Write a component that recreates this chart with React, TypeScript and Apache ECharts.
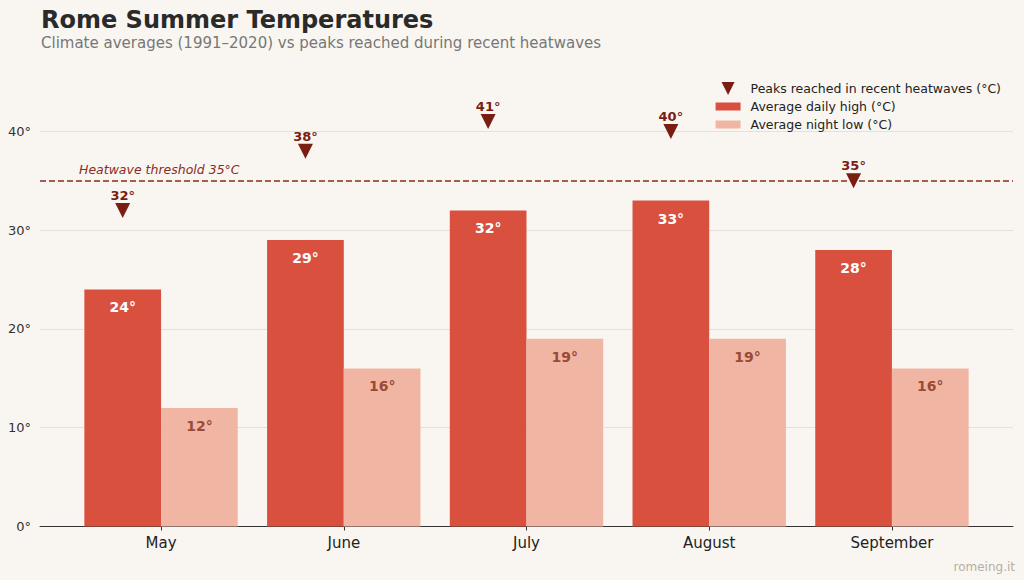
import React, { useEffect, useRef } from "react";
import * as echarts from "echarts";

const months = ["May", "June", "July", "August", "September"];
const avgHigh = [24, 29, 32, 33, 28];
const avgLow = [12, 16, 19, 19, 16];
const peaks = [32, 38, 41, 40, 35];
const threshold = 35;
const yTicks = [0, 10, 20, 30, 40];

const FONT = "DejaVu Sans";
const HIGH = "#d9503f";
const LOW = "#f0b6a3";
const DARK = "#7a1d12";
const LINE = "#8b2c1e";
const TRI = "path://M0,0L10,0L5,10Z";
const RECT = "path://M0,0L25,0L25,8L0,8Z";

export default function App() {
  const ref = useRef<HTMLDivElement>(null);
  useEffect(() => {
    if (!ref.current) return;
    const chart = echarts.init(ref.current, null, { renderer: "svg" });
    const top = 82;
    const bottom = 53.5;
    chart.setOption({
      animation: false,
      backgroundColor: "#f9f6f1",
      textStyle: { fontFamily: FONT },
      title: [
        {
          text: "Rome Summer Temperatures",
          left: 36,
          top: 3,
          textStyle: { fontFamily: FONT, fontSize: 24, fontWeight: "bold", color: "#2a2a2a" },
        },
        {
          text: "Climate averages (1991–2020) vs peaks reached during recent heatwaves",
          left: 36,
          top: 30,
          textStyle: { fontFamily: FONT, fontSize: 15, fontWeight: "normal", color: "#777777" },
        },
        {
          text: "romeing.it",
          right: 4,
          bottom: 2,
          textStyle: { fontFamily: FONT, fontSize: 12, fontWeight: "normal", color: "#b6afa6" },
        },
      ],
      legend: {
        orient: "vertical",
        right: 18,
        top: 77,
        itemWidth: 25,
        itemHeight: 13,
        itemGap: 5,
        textStyle: { fontFamily: FONT, fontSize: 12.5, color: "#222", padding: [0, 0, 0, 5] },
        data: [
          { name: "Peaks reached in recent heatwaves (°C)", icon: TRI },
          { name: "Average daily high (°C)", icon: RECT },
          { name: "Average night low (°C)", icon: RECT },
        ],
      },
      grid: [
        { left: 40, right: 11, top, bottom },
        { left: 69.7, right: 40.7, top, bottom },
      ],
      xAxis: [
        {
          type: "value",
          gridIndex: 0,
          min: 0,
          max: 1,
          axisLine: { show: true, onZero: false, lineStyle: { color: "#333", width: 1 } },
          axisTick: { show: false },
          axisLabel: { show: false },
          splitLine: { show: false },
        },
        {
          type: "category",
          gridIndex: 1,
          data: months,
          axisLine: { show: false },
          axisTick: { show: true, alignWithLabel: true, length: 4, lineStyle: { color: "#333" } },
          axisLabel: { fontFamily: FONT, fontSize: 15, color: "#222", margin: 9 },
        },
      ],
      yAxis: [
        {
          type: "value",
          gridIndex: 0,
          min: 0,
          max: 45,
          interval: 10,
          axisLine: { show: false },
          axisTick: { show: false },
          axisLabel: {
            fontFamily: FONT,
            fontSize: 13,
            color: "#333",
            margin: 9,
            showMaxLabel: false,
            formatter: (v: number) => (yTicks.includes(v) ? v + "°" : ""),
          },
          splitLine: { show: true, showMaxLine: false, lineStyle: { color: "#e5e0da", width: 1 } },
        },
        {
          type: "value",
          gridIndex: 1,
          min: 0,
          max: 45,
          interval: 10,
          show: false,
          splitLine: { show: false },
        },
      ],
      series: [
        {
          name: "threshold",
          type: "line",
          xAxisIndex: 0,
          yAxisIndex: 0,
          data: [
            [0, threshold],
            [1, threshold],
          ],
          symbol: "none",
          silent: true,
          lineStyle: { opacity: 0 },
          markLine: {
            silent: true,
            symbol: "none",
            lineStyle: { color: LINE, type: [6, 3], width: 1.5 },
            label: {
              show: true,
              position: "insideStartTop",
              formatter: "Heatwave threshold 35°C",
              fontFamily: FONT,
              fontStyle: "italic",
              fontSize: 12.5,
              color: LINE,
              padding: [0, 0, 0, 34],
            },
            data: [{ yAxis: threshold }],
          },
        },
        {
          name: "Average daily high (°C)",
          type: "bar",
          xAxisIndex: 1,
          yAxisIndex: 1,
          data: avgHigh,
          barWidth: 76.7,
          barGap: "0%",
          itemStyle: { color: HIGH },
          label: {
            show: true,
            position: "insideTop",
            distance: 11,
            formatter: (p: any) => p.value + "°",
            fontFamily: FONT,
            fontSize: 14,
            fontWeight: "bold",
            color: "#ffffff",
          },
        },
        {
          name: "Average night low (°C)",
          type: "bar",
          xAxisIndex: 1,
          yAxisIndex: 1,
          data: avgLow,
          barWidth: 76.7,
          barGap: "0%",
          itemStyle: { color: LOW },
          label: {
            show: true,
            position: "insideTop",
            distance: 11,
            formatter: (p: any) => p.value + "°",
            fontFamily: FONT,
            fontSize: 14,
            fontWeight: "bold",
            color: "#9b4a36",
          },
        },
        {
          name: "Peaks reached in recent heatwaves (°C)",
          type: "scatter",
          xAxisIndex: 1,
          yAxisIndex: 1,
          data: peaks,
          symbol: TRI,
          symbolSize: [15, 15],
          symbolOffset: [-38.35, 0],
          itemStyle: { color: DARK, opacity: 1 },
          z: 5,
          label: {
            show: true,
            position: "top",
            distance: 1,
            formatter: (p: any) => p.value + "°",
            fontFamily: FONT,
            fontSize: 13,
            fontWeight: "bold",
            color: DARK,
          },
        },
      ],
    });
    return () => chart.dispose();
  }, []);
  return (
    <div
      ref={ref}
      style={{ position: "fixed", left: 0, top: 0, width: 1024, height: 580 }}
    />
  );
}
